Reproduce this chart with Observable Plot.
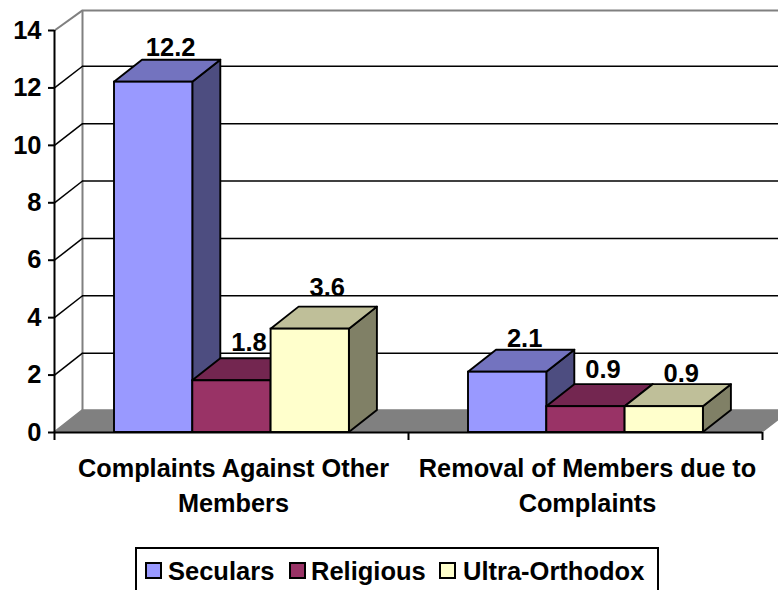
<!DOCTYPE html>
<html>
<head>
<meta charset="utf-8">
<script src="https://cdn.jsdelivr.net/npm/d3@7"></script>
<script src="https://cdn.jsdelivr.net/npm/@observablehq/plot@0.6"></script>
<style>
html,body{margin:0;padding:0;background:#fff;overflow:hidden;width:778px;height:590px}
body{font-family:"Liberation Sans",Arial,sans-serif;font-weight:bold;color:#000}
#chart svg{display:block}
#legend{box-sizing:border-box;position:absolute;left:135px;top:547px;width:524px;height:60px;border:2px solid #000;font-size:25.5px;line-height:28px}
#legend span{position:absolute;top:8px;white-space:nowrap}
#legend i{position:absolute;top:13px;width:13px;height:13px;border:2px solid #000;display:block}
</style>
</head>
<body>
<div id="chart"></div>
<div id="legend"></div>
<script>
const categories = ["Complaints Against Other\nMembers", "Removal of Members due to\nComplaints"];
const seriesNames = ["Seculars", "Religious", "Ultra-Orthodox"];
const seculars = [12.2, 2.1];
const religious = [1.8, 0.9];
const ultraOrthodox = [3.6, 0.9];
const yTicks = [0, 2, 4, 6, 8, 10, 12, 14];
const frontColors = ["#9999FF", "#993366", "#FFFFCC"];
const topColors = ["#7373BF", "#732650", "#BFBF99"];
const sideColors = ["#4D4D80", "#4D1A33", "#808066"];

const seriesValues = [seculars, religious, ultraOrthodox];

// layout of the pseudo-3D box, in scale units
const depthX = 28 / 354, depthY = 22 / 28.71, wallK = 0.999, wallTop = 14.7;
const barW = 78.3 / 354, gapL = 60 / 354;
const xMax = 724 / 354;
const back = v => depthY + v * wallK;
const labelRaise = [[0.14, 0.1], [0.28, 0.24], [0.38, 0.1]];   // per series / per category, above bar's back edge
const labelShift = 17 / 354;

const gridRows = yTicks.filter(t => t > 0 && t < 14);
const stroke = 1.9;

function bar(catIdx, serIdx) {
  const v = seriesValues[serIdx][catIdx];
  const xl = catIdx + gapL + serIdx * barW, xr = xl + barW;
  return [
    Plot.areaY([{x: xr, y1: 0, y2: v}, {x: xr + depthX, y1: depthY, y2: v + depthY}],
      {x: "x", y1: "y1", y2: "y2", fill: sideColors[serIdx], stroke: "#000", strokeWidth: stroke}),
    Plot.areaX([{y: v, x1: xl, x2: xr}, {y: v + depthY, x1: xl + depthX, x2: xr + depthX}],
      {y: "y", x1: "x1", x2: "x2", fill: topColors[serIdx], stroke: "#000", strokeWidth: stroke}),
    Plot.rect([{x1: xl, x2: xr, y1: 0, y2: v}],
      {x1: "x1", x2: "x2", y1: "y1", y2: "y2", fill: frontColors[serIdx], stroke: "#000", strokeWidth: stroke})
  ];
}

const bars = [];
const labels = [];
categories.forEach((c, ci) => seriesNames.forEach((s, si) => {
  bars.push(...bar(ci, si));
  labels.push({
    x: ci + gapL + si * barW + barW / 2 + labelShift,
    y: seriesValues[si][ci] + depthY + labelRaise[si][ci],
    t: String(seriesValues[si][ci].toFixed(1))
  });
}));

const plot = Plot.plot({
  width: 778, height: 547,
  marginLeft: 54, marginRight: 0, marginTop: 30, marginBottom: 115,
  x: {type: "linear", domain: [0, xMax], axis: null},
  y: {type: "linear", domain: [0, 14], axis: null},
  style: {fontFamily: '"Liberation Sans", Arial, sans-serif', fontWeight: "bold", background: "#fff", overflow: "hidden"},
  marks: [
    // floor
    Plot.areaX([{y: 0, x1: 0, x2: 2}, {y: depthY, x1: depthX, x2: 2 + depthX}],
      {y: "y", x1: "x1", x2: "x2", fill: "#808080", stroke: "#808080", strokeWidth: 1.5}),
    // back wall edges
    Plot.ruleX([depthX], {y1: depthY, y2: wallTop, stroke: "#808080", strokeWidth: 2}),
    Plot.ruleY([wallTop], {x1: depthX, x2: 2 + depthX, stroke: "#808080", strokeWidth: 2}),
    Plot.link([14], {x1: 0, x2: depthX, y1: d => d, y2: wallTop, stroke: "#808080", strokeWidth: 2}),
    // grid on the back wall and side wall
    Plot.ruleY(gridRows, {y: back, x1: depthX, x2: 2 + depthX, stroke: "#000", strokeWidth: 1.5}),
    Plot.link(gridRows, {x1: 0, x2: depthX, y1: d => d, y2: back, stroke: "#000", strokeWidth: 1.5}),
    // axes
    Plot.axisY({ticks: yTicks, tickSize: 6, tickPadding: 7, fontSize: 25.5, fontWeight: "bold", label: null, strokeWidth: 2, stroke: "#000", color: "#000"}),
    Plot.ruleX([0], {y1: 0, y2: 14, stroke: "#000", strokeWidth: 2}),
    ...bars,
    Plot.ruleY([0], {x1: 0, x2: 2, stroke: "#000", strokeWidth: 2}),
    Plot.axisX({ticks: [0, 1, 2], tickSize: 8, tickFormat: () => "", label: null, strokeWidth: 2, stroke: "#000"}),
    Plot.axisX({ticks: [0.5, 1.5], tickSize: 0, tickPadding: 20, dx: 2, fontSize: 25.3, fontWeight: "bold", lineHeight: 1.38, label: null,
      tickFormat: d => categories[Math.floor(d)], color: "#000", textOverflow: null}),
    Plot.text(labels, {x: "x", y: "y", text: "t", fontSize: 25.5, fontWeight: "bold", fill: "#000", lineAnchor: "bottom"})
  ]
});
document.getElementById("chart").appendChild(plot);

const lg = document.getElementById("legend");
const swatchX = [8, 152, 302], textX = [31, 174, 326];
seriesNames.forEach((s, i) => {
  const sw = document.createElement("i");
  sw.style.left = swatchX[i] + "px";
  sw.style.background = frontColors[i];
  lg.appendChild(sw);
  const t = document.createElement("span");
  t.style.left = textX[i] + "px";
  t.textContent = s;
  lg.appendChild(t);
});
</script>
</body>
</html>
